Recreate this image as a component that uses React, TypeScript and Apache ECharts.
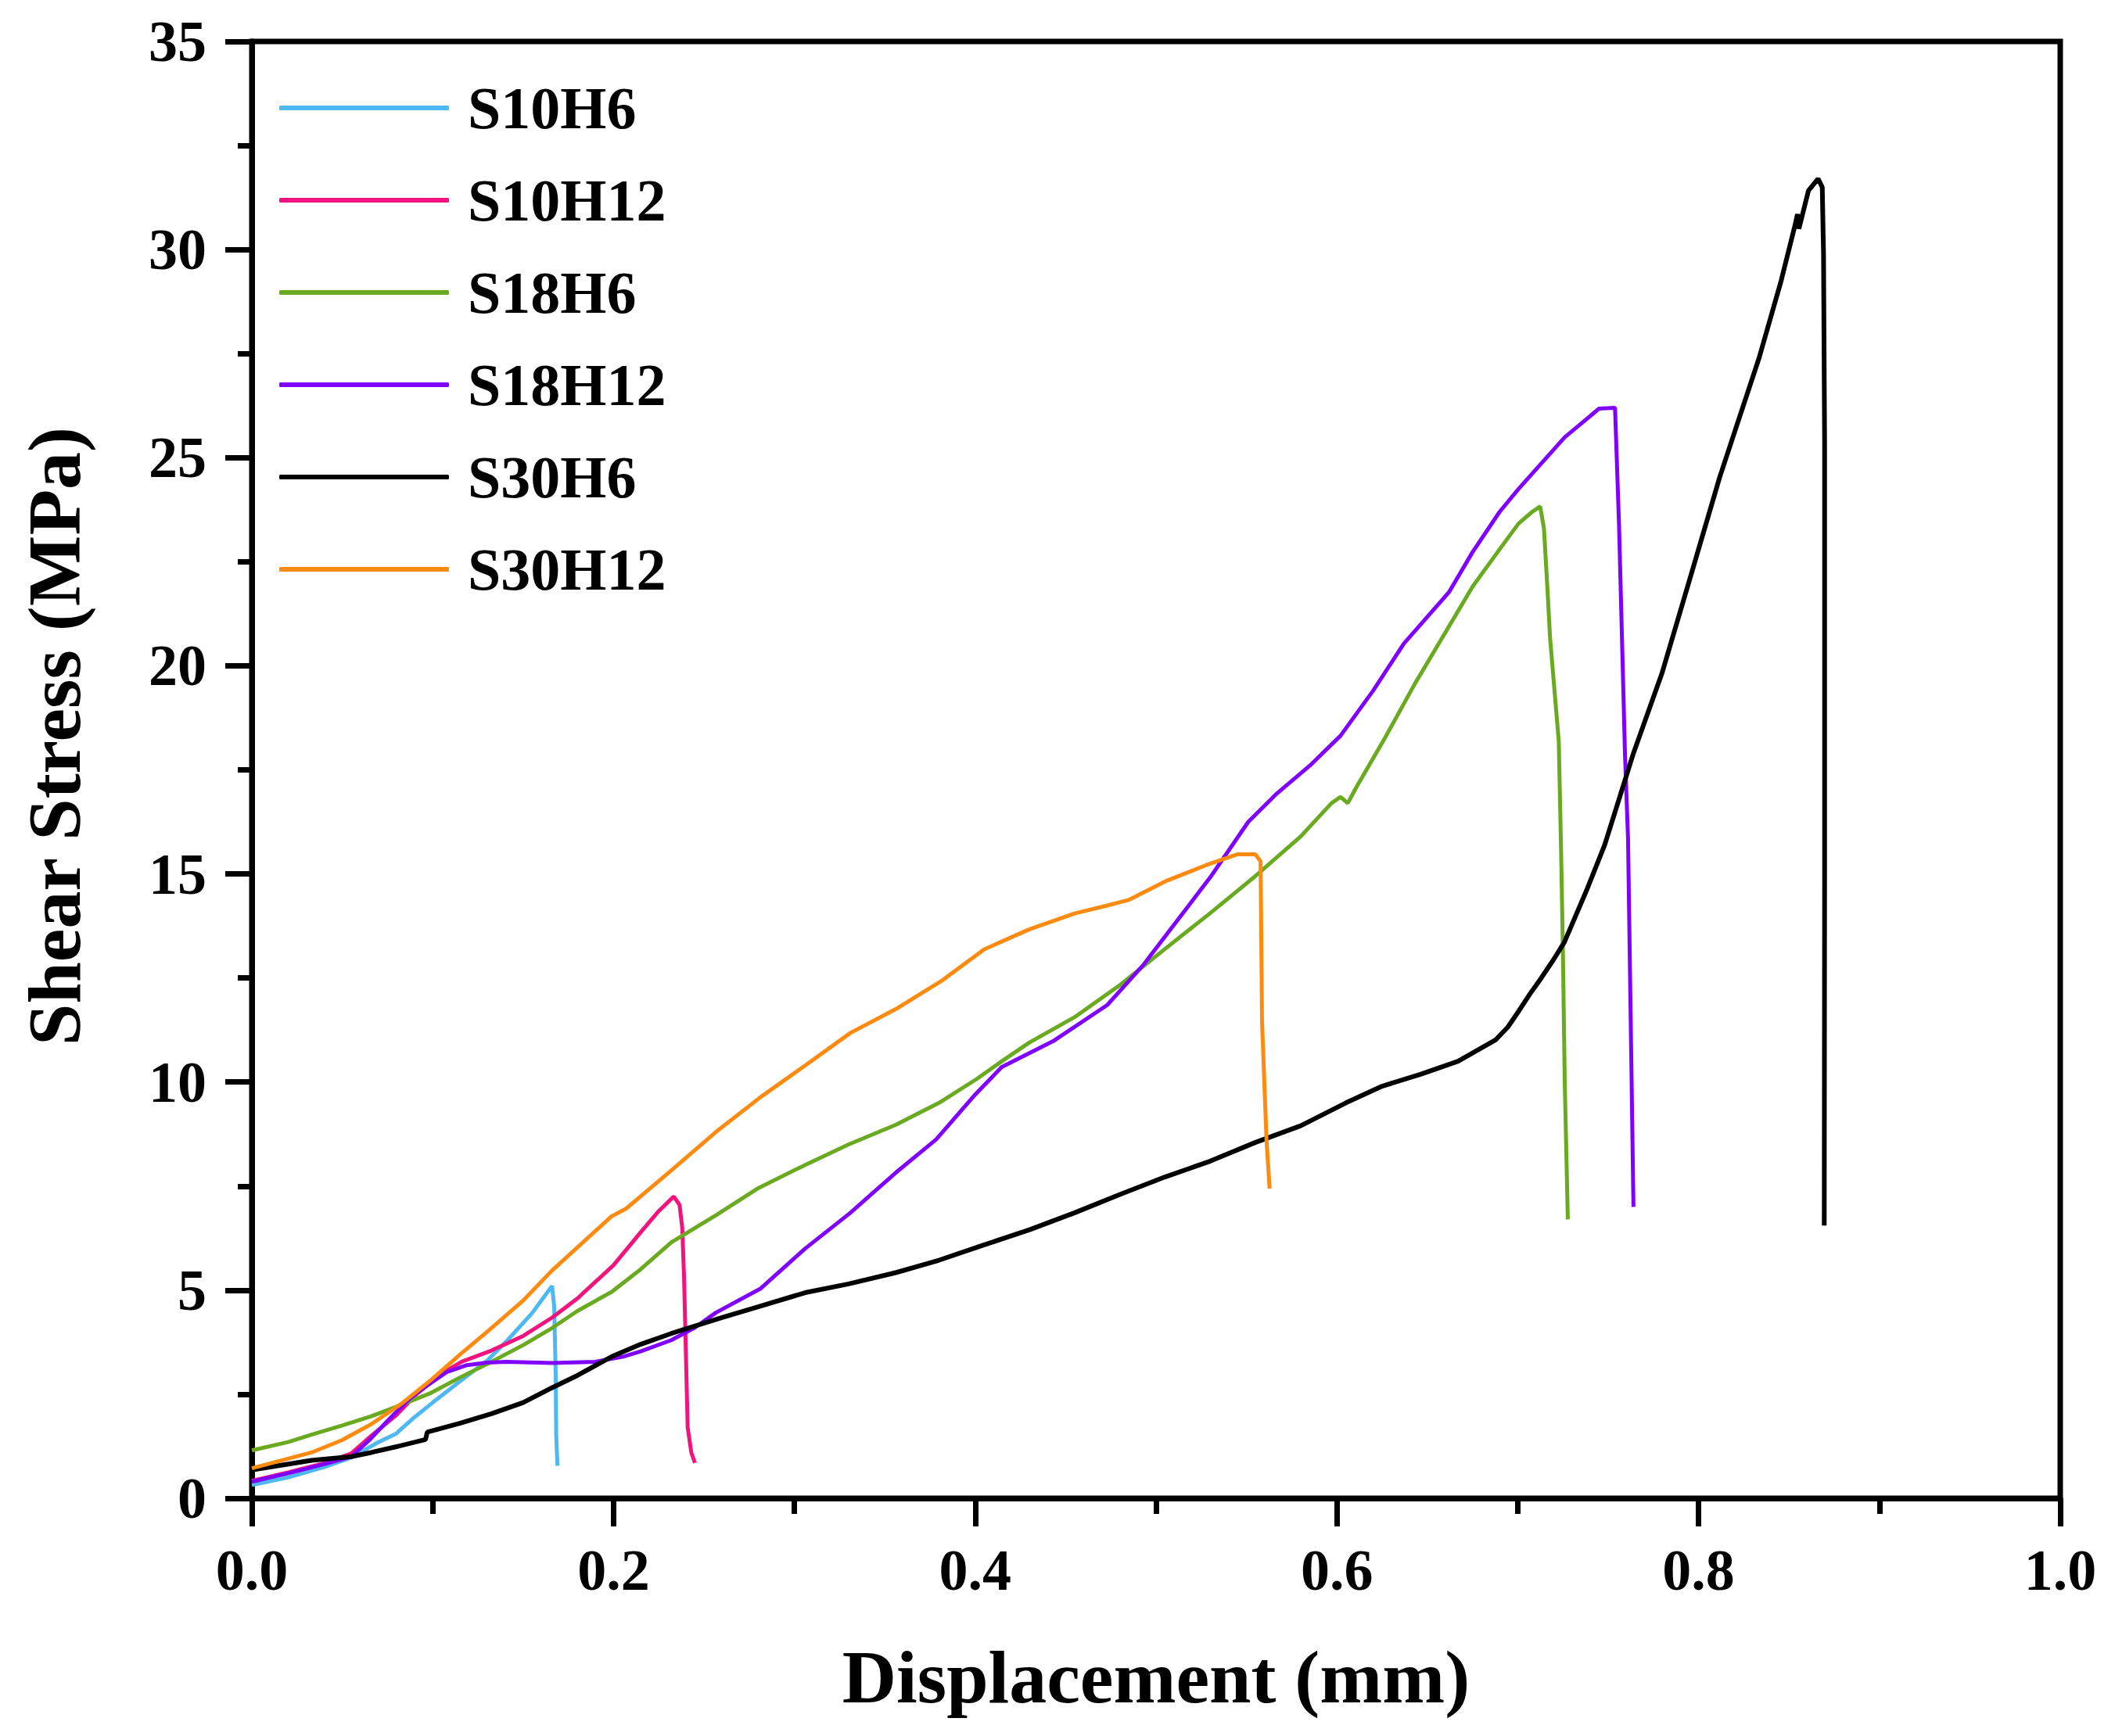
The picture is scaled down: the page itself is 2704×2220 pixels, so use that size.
import React, { useEffect, useRef } from "react";
import * as echarts from "echarts";

const seriesNames = ["S10H6", "S10H12", "S18H6", "S18H12", "S30H6", "S30H12"];
const seriesColors = ["#4DB8F2", "#F2137E", "#6AAA20", "#8000FF", "#000000", "#FF8A10"];

const xTicks = [0, 0.2, 0.4, 0.6, 0.8, 1.0];
const yTicks = [0, 5, 10, 15, 20, 25, 30, 35];

const s10h6: [number, number][] = [
  [0, 0.32], [0.02, 0.5], [0.04, 0.75], [0.055, 0.98], [0.07, 1.35], [0.0797, 1.55],
  [0.09, 1.95], [0.1, 2.3], [0.116, 2.84], [0.13, 3.3], [0.141, 3.78], [0.155, 4.45],
  [0.166, 5.1], [0.1672, 4.6], [0.168, 3.0], [0.1683, 1.5], [0.169, 0.78],
];

const s10h12: [number, number][] = [
  [0, 0.42], [0.02, 0.62], [0.04, 0.84], [0.055, 1.08], [0.066, 1.5], [0.0797, 1.99],
  [0.091, 2.5], [0.105, 3.0], [0.116, 3.28], [0.1325, 3.55], [0.15, 3.9], [0.166, 4.34],
  [0.18, 4.8], [0.19, 5.2], [0.2, 5.6], [0.215, 6.39], [0.225, 6.9], [0.2333, 7.25],
  [0.2365, 7.05], [0.238, 6.5], [0.239, 5.3], [0.24, 3.5], [0.241, 1.7], [0.243, 1.1],
  [0.245, 0.85],
];

const s18h6: [number, number][] = [
  [0, 1.15], [0.02, 1.35], [0.033, 1.53], [0.05, 1.75], [0.066, 1.97], [0.08, 2.2],
  [0.099, 2.53], [0.115, 2.9], [0.1325, 3.28], [0.15, 3.68], [0.166, 4.09], [0.18, 4.5],
  [0.199, 4.96], [0.215, 5.5], [0.232, 6.15], [0.2566, 6.8], [0.28, 7.45], [0.306, 8.01],
  [0.33, 8.5], [0.356, 8.97], [0.38, 9.5], [0.4007, 10.07], [0.4147, 10.5], [0.43, 10.95],
  [0.455, 11.56], [0.48, 12.33], [0.505, 13.2], [0.53, 14.06], [0.555, 14.95], [0.58, 15.9],
  [0.597, 16.7], [0.602, 16.85], [0.606, 16.7], [0.611, 17.1], [0.627, 18.3], [0.643, 19.56],
  [0.66, 20.8], [0.675, 21.9], [0.69, 22.8], [0.7005, 23.42], [0.708, 23.7], [0.7124, 23.83],
  [0.7145, 23.3], [0.7165, 21.8], [0.7179, 20.66], [0.7227, 18.18], [0.724, 15.5],
  [0.725, 13.08], [0.726, 10.0], [0.7277, 6.7],
];

const s18h12: [number, number][] = [
  [0, 0.4], [0.02, 0.6], [0.04, 0.82], [0.055, 1.0], [0.065, 1.4], [0.0746, 1.84],
  [0.085, 2.3], [0.091, 2.53], [0.1, 2.8], [0.1077, 3.03], [0.119, 3.2], [0.13, 3.26],
  [0.141, 3.28], [0.166, 3.25], [0.19, 3.28], [0.205, 3.4], [0.215, 3.53], [0.232, 3.8],
  [0.245, 4.1], [0.2566, 4.46], [0.2814, 5.04], [0.306, 6.0], [0.331, 6.86], [0.356, 7.82],
  [0.3784, 8.62], [0.4, 9.7], [0.4147, 10.36], [0.443, 10.98], [0.473, 11.85],
  [0.4927, 12.8], [0.505, 13.5], [0.53, 14.92], [0.551, 16.25], [0.567, 16.94],
  [0.585, 17.6], [0.602, 18.32], [0.62, 19.4], [0.637, 20.53], [0.662, 21.77],
  [0.675, 22.73], [0.69, 23.7], [0.7005, 24.25], [0.726, 25.49], [0.745, 26.18],
  [0.7538, 26.2], [0.756, 23.42], [0.7593, 17.9], [0.761, 15.84], [0.764, 7.0],
];

const s30h6: [number, number][] = [
  [0, 0.68], [0.033, 0.91], [0.055, 1.0], [0.066, 1.1], [0.08, 1.24], [0.096, 1.41],
  [0.097, 1.59], [0.115, 1.8], [0.1325, 2.03], [0.15, 2.3], [0.1657, 2.65], [0.18, 2.95],
  [0.1988, 3.4], [0.215, 3.7], [0.232, 3.96], [0.26, 4.34], [0.28, 4.6], [0.306, 4.94],
  [0.33, 5.15], [0.356, 5.42], [0.38, 5.72], [0.405, 6.09], [0.43, 6.45], [0.455, 6.86],
  [0.48, 7.3], [0.505, 7.72], [0.53, 8.1], [0.555, 8.55], [0.58, 8.95], [0.605, 9.5],
  [0.625, 9.9], [0.6465, 10.19], [0.667, 10.5], [0.6877, 11.01], [0.6945, 11.32],
  [0.7005, 11.7], [0.7068, 12.12], [0.713, 12.5], [0.7195, 12.92], [0.7258, 13.36],
  [0.7385, 14.65], [0.7481, 15.7], [0.764, 17.9], [0.7799, 19.84], [0.7958, 22.18],
  [0.8116, 24.52], [0.8198, 25.6], [0.8335, 27.4], [0.8456, 29.24], [0.8532, 30.56],
  [0.8547, 30.85], [0.8555, 30.5], [0.8608, 31.42], [0.8661, 31.7], [0.8684, 31.5],
  [0.8691, 29.9], [0.8697, 25.3], [0.8697, 15.0], [0.8695, 6.55],
];

const s30h12: [number, number][] = [
  [0, 0.72], [0.033, 1.1], [0.05, 1.4], [0.066, 1.78], [0.083, 2.28], [0.099, 2.84],
  [0.115, 3.45], [0.1325, 4.09], [0.15, 4.75], [0.1657, 5.46], [0.1988, 6.77],
  [0.207, 6.96], [0.232, 7.88], [0.2566, 8.8], [0.2814, 9.64], [0.306, 10.4],
  [0.331, 11.18], [0.356, 11.75], [0.381, 12.42], [0.405, 13.19], [0.43, 13.67],
  [0.455, 14.05], [0.473, 14.24], [0.4852, 14.38], [0.505, 14.82], [0.53, 15.25],
  [0.5448, 15.47], [0.5549, 15.47], [0.5578, 15.3], [0.5586, 11.46], [0.5611, 8.59],
  [0.5628, 7.44],
];

const seriesData = [s10h6, s10h12, s18h6, s18h12, s30h6, s30h12];

const FONT = '"Times New Roman", "Liberation Serif", serif';

export default function App() {
  const ref = useRef<HTMLDivElement>(null);

  useEffect(() => {
    document.body.style.margin = "0";
    if (!ref.current) return;
    const chart = echarts.init(ref.current, undefined, { renderer: "svg" });
    const axisLineStyle = { color: "#000", width: 7 };
    chart.setOption({
      animation: false,
      backgroundColor: "#fff",
      grid: {
        left: 322,
        right: 70,
        top: 53,
        bottom: 304,
        show: true,
        borderColor: "#000",
        borderWidth: 7,
        containLabel: false,
      },
      legend: {
        orient: "vertical",
        left: 357,
        top: 98,
        icon: "roundRect",
        itemWidth: 217,
        itemHeight: 6,
        itemGap: 38,
        padding: 0,
        data: seriesNames,
        textStyle: {
          fontFamily: FONT,
          fontWeight: "bold",
          fontSize: 76,
          color: "#000",
          lineHeight: 80,
          padding: [0, 0, 0, 19],
        },
      },
      xAxis: {
        type: "value",
        min: 0,
        max: 1.0,
        interval: 0.2,
        name: "Displacement (mm)",
        nameLocation: "middle",
        nameGap: 180,
        nameTextStyle: { fontFamily: FONT, fontWeight: "bold", fontSize: 96, color: "#000" },
        axisLine: { show: true, lineStyle: axisLineStyle },
        axisTick: { show: true, inside: false, length: 36, lineStyle: { color: "#000", width: 7 } },
        minorTick: { show: true, splitNumber: 2, length: 20, lineStyle: { color: "#000", width: 7 } },
        splitLine: { show: false },
        minorSplitLine: { show: false },
        axisLabel: {
          margin: 55,
          fontFamily: FONT,
          fontWeight: "bold",
          fontSize: 74,
          color: "#000",
          formatter: (v: number) => (xTicks.includes(Math.round(v * 10) / 10) ? v.toFixed(1) : ""),
        },
      },
      yAxis: {
        type: "value",
        min: 0,
        max: 35,
        interval: 5,
        name: "Shear Stress (MPa)",
        nameLocation: "middle",
        nameGap: 205,
        nameTextStyle: {
          fontFamily: FONT,
          fontWeight: "bold",
          fontSize: 96,
          color: "#000",
          padding: [0, 0, 0, 86],
        },
        axisLine: { show: true, lineStyle: axisLineStyle },
        axisTick: { show: true, inside: false, length: 34, lineStyle: { color: "#000", width: 7 } },
        minorTick: { show: true, splitNumber: 2, length: 18, lineStyle: { color: "#000", width: 7 } },
        splitLine: { show: false },
        minorSplitLine: { show: false },
        axisLabel: {
          margin: 58,
          fontFamily: FONT,
          fontWeight: "bold",
          fontSize: 74,
          color: "#000",
          formatter: (v: number) => (yTicks.includes(v) ? String(v) : ""),
        },
      },
      series: seriesNames.map((name, i) => ({
        name,
        type: "line",
        data: seriesData[i],
        symbol: "none",
        showSymbol: false,
        smooth: false,
        lineStyle: { color: seriesColors[i], width: i === 4 ? 6 : 5 },
        itemStyle: { color: seriesColors[i] },
        z: 2 + i,
      })),
    });
    return () => chart.dispose();
  }, []);

  return <div ref={ref} style={{ width: 2704, height: 2220 }} />;
}
